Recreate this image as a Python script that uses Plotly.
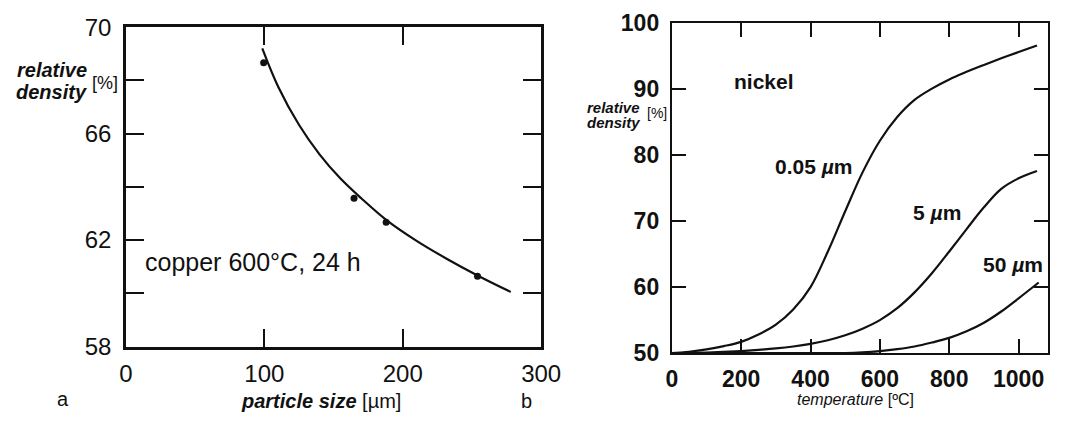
import plotly.graph_objects as go

# ---------------- data ----------------
# panel a: copper, 600 °C, 24 h
cu_size_pts = [99.5, 164.8, 188, 254]
cu_dens_pts = [68.66, 63.57, 62.67, 60.64]
cu_size_curve = [98.5, 110, 125, 140, 155, 170, 188, 210, 232, 254, 278]
cu_dens_curve = [69.2, 67.76, 66.33, 65.21, 64.31, 63.57, 62.76, 61.97, 61.29, 60.67, 60.05]
a_xticks = [0, 100, 200, 300]
a_yticks = [58, 60, 62, 64, 66, 68, 70]
a_ytext = ["58", "", "62", "", "66", "", "70"]

# panel b: nickel
ni_t_005 = [0, 50, 100, 150, 200, 250, 300, 350, 400, 450, 500, 550, 600, 650, 700,
            750, 800, 850, 900, 950, 1000, 1053]
ni_d_005 = [50, 50.2, 50.55, 51.05, 51.7, 52.8, 54.3, 56.6, 60.0, 65.4, 71.5, 77.4, 82.2, 85.8, 88.4,
            90.1, 91.5, 92.65, 93.7, 94.7, 95.65, 96.65]
ni_t_5 = [0, 50, 100, 150, 200, 250, 300, 350, 400, 450, 500, 550, 600, 650, 700,
          750, 800, 850, 900, 950, 1000, 1053]
ni_d_5 = [50, 50.02, 50.08, 50.17, 50.3, 50.48, 50.7, 51.0, 51.4, 51.95, 52.7, 53.7, 55.0, 56.8, 59.2,
          62.1, 65.4, 68.8, 72.1, 74.9, 76.5, 77.6]
ni_t_50 = [0, 100, 200, 300, 400, 500, 550, 600, 650, 700, 750, 800, 850, 900, 950, 1000, 1058]
ni_d_50 = [50, 50, 50, 50, 50, 50.0, 50.1, 50.3, 50.6, 51.0, 51.6, 52.3, 53.3, 54.6, 56.3, 58.3, 60.7]
b_xticks = [0, 200, 400, 600, 800, 1000]
b_yticks = [50, 60, 70, 80, 90, 100]
curve_labels = ["0.05 <i>µ</i>m", "5 <i>µ</i>m", "50 <i>µ</i>m"]
curve_label_t = [410, 765, 985]
curve_label_d = [78.3, 71.3, 63.4]

# ---------------- figure ----------------
W, H = 1071, 426
FONT = "Liberation Sans, Arial, Helvetica, sans-serif"
INK = "#111111"


def px(x):
    return x / W


def py(y):
    return 1 - y / H


fig = go.Figure()
line_style = dict(color=INK, width=2.2)
fig.add_trace(go.Scatter(x=cu_size_curve, y=cu_dens_curve, mode="lines",
                         line=dict(shape="spline", smoothing=1.0, **line_style),
                         xaxis="x", yaxis="y", showlegend=False, hoverinfo="skip"))
fig.add_trace(go.Scatter(x=cu_size_pts, y=cu_dens_pts, mode="markers",
                         marker=dict(color=INK, size=7),
                         xaxis="x", yaxis="y", showlegend=False))
for t, d in [(ni_t_005, ni_d_005), (ni_t_5, ni_d_5), (ni_t_50, ni_d_50)]:
    fig.add_trace(go.Scatter(x=t, y=d, mode="lines",
                             line=dict(shape="spline", smoothing=1.0, **line_style),
                             xaxis="x2", yaxis="y2", showlegend=False, hoverinfo="skip"))

common = dict(showline=True, linecolor=INK, mirror="ticks", ticks="inside",
              tickcolor=INK, showgrid=False, zeroline=False, fixedrange=True)

fig.update_layout(
    width=W, height=H,
    margin=dict(l=0, r=0, t=0, b=0),
    paper_bgcolor="white", plot_bgcolor="white",
    font=dict(family=FONT, color=INK),
    xaxis=dict(domain=[px(122), px(548)], range=[0, 300], tickvals=a_xticks,
               ticklen=18, tickwidth=2, linewidth=2.5, anchor="y",
               tickfont=dict(size=24, family=FONT, color=INK), ticklabelstandoff=4, **common),
    yaxis=dict(domain=[py(355), py(14)], range=[58, 70], tickvals=a_yticks, ticktext=a_ytext,
               ticklen=18, tickwidth=2, linewidth=2.5, anchor="x",
               tickfont=dict(size=24, family=FONT, color=INK), ticklabelstandoff=7, **common),
    xaxis2=dict(domain=[px(682), px(1068)], range=[0, 1085], tickvals=b_xticks,
                ticklen=14, tickwidth=1.5, linewidth=2, anchor="y2",
                tickfont=dict(size=23, family=FONT, color=INK, weight="bold"),
                ticklabelstandoff=4, **common),
    yaxis2=dict(domain=[py(362), py(10)], range=[50, 100], tickvals=b_yticks,
                ticklen=14, tickwidth=1.5, linewidth=2, anchor="x2",
                tickfont=dict(size=23, family=FONT, color=INK, weight="bold"),
                ticklabelstandoff=6, **common),
)

ann = []


def add_text(text, x, y, size, xanchor="center", yanchor="middle", xref="paper", yref="paper",
             bold=False, italic=False):
    if italic:
        text = "<i>" + text + "</i>"
    if bold:
        text = "<b>" + text + "</b>"
    ann.append(dict(text=text, x=x, y=y, xref=xref, yref=yref, xanchor=xanchor, yanchor=yanchor,
                    showarrow=False, borderpad=0, font=dict(family=FONT, size=size, color=INK)))


# panel a titles
add_text("relative", px(83), py(60), 20, xanchor="right", bold=True, italic=True)
add_text("density", px(83), py(83), 20, xanchor="right", bold=True, italic=True)
add_text("[%]", px(101), py(74), 18)
add_text("<b><i>particle size</i></b> [µm]", px(322), py(413), 20)
add_text("a", px(57), py(411), 20)
add_text("copper 600°C, 24 h", px(141), py(265), 25, xanchor="left")

# panel b titles
add_text("relative", px(650), py(100), 15, xanchor="right", bold=True, italic=True)
add_text("density", px(650), py(116), 15, xanchor="right", bold=True, italic=True)
add_text("[%]", px(667), py(106), 14)
add_text("<i>temperature</i> [ºC]", px(870), py(412), 16)
add_text("b", px(533), py(413), 20)
add_text("nickel", 266, 91.2, 21, xref="x2", yref="y2", bold=True)
for lab, t, d in zip(curve_labels, curve_label_t, curve_label_d):
    add_text(lab, t, d, 21, xref="x2", yref="y2", bold=True)

fig.update_layout(annotations=ann)
fig.write_html("out.html")
